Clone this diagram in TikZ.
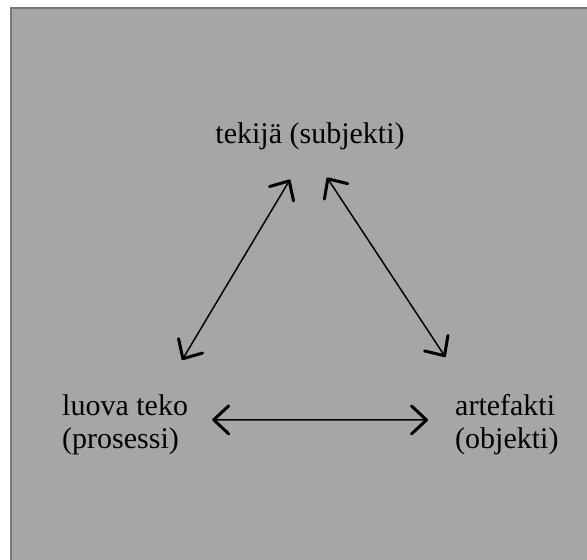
\documentclass[tikz,border=0pt]{standalone}
\usepackage{fontspec}
\setmainfont{Liberation Serif}
\usepackage{tikz}
\usetikzlibrary{arrows.meta}

\definecolor{panel}{RGB}{166,166,166}
\definecolor{paneledge}{RGB}{120,120,120}

\tikzset{
    label/.style={inner sep=0pt, align=left, font=\fontsize{30}{33}\selectfont},
    twoway/.style={line width=1.5pt,
        {Straight Barb[length=15pt,width=28pt,line width=3pt,round]}-{Straight Barb[length=15pt,width=28pt,line width=3pt,round]}}
}

\begin{document}
\begin{tikzpicture}[x=1pt,y=-1pt]
    \useasboundingbox (0,0) rectangle (587,560);
    \fill[white] (0,0) rectangle (587,560);

    % GRAY PANEL
    \fill[panel] (10,7) rectangle (587,560);
    \draw[paneledge, line width=2pt] (11,560) -- (11,8) -- (587,8);

    % THE THREE CORNERS
    \node[label, anchor=base] (tek) at (310,143) {tekijä (subjekti)};
    \node[label, anchor=north west] (luo) at (62,394.5) {luova teko\\(prosessi)};
    \node[label, anchor=north west] (art) at (455,394.5) {artefakti\\(objekti)};

    % ARROWS BETWEEN THEM
    \draw[twoway] ([xshift=-20pt,yshift=-30pt]tek.south) -- ([xshift=57pt,yshift=34.5pt]luo.north);
    \draw[twoway] ([xshift=17pt,yshift=-28pt]tek.south) -- ([xshift=-61.5pt,yshift=37.5pt]art.north);
    \draw[twoway] ([xshift=24pt,yshift=5pt]luo.east) -- ([xshift=-27pt,yshift=5pt]art.west);
\end{tikzpicture}
\end{document}
